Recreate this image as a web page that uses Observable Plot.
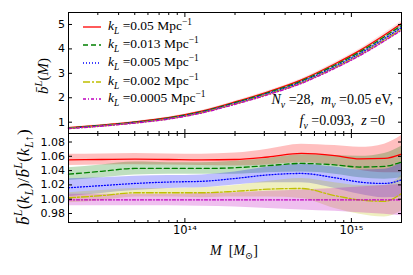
<!DOCTYPE html>
<html><head><meta charset="utf-8">
<script src="https://cdn.jsdelivr.net/npm/d3@7"></script>
<script src="https://cdn.jsdelivr.net/npm/@observablehq/plot@0.6"></script>
<style>
html,body{margin:0;padding:0;background:#fff;}
body{width:413px;height:275px;overflow:hidden;position:relative;font-family:"DejaVu Sans",sans-serif;}
.panel{position:absolute;left:0;}
.serif{font-family:"Liberation Serif","DejaVu Serif",serif;position:absolute;white-space:nowrap;color:#000;}
.serif sub,.serif sup{font-size:70%;line-height:0;}
.rot{transform:translate(-50%,-50%) rotate(-90deg);}
.leg{position:absolute;left:83px;height:14px;white-space:nowrap;}
.leg svg{position:absolute;left:0;top:5px;}
.leg span{position:absolute;left:25px;top:-2px;font-family:"Liberation Serif",serif;font-size:13.5px;}
.leg sub,.leg sup{font-size:70%;line-height:0;}
</style>
</head><body>
<div id="top" class="panel" style="top:0"></div>
<div id="bot" class="panel" style="top:133px"></div>
<script>
// ---- data ----
const kL = ["0.05", "0.013", "0.005", "0.002", "0.0005"];
const mass = [2.0e13, 3.16e13, 5.01e13, 7.94e13, 1.26e14, 2.0e14, 3.16e14, 5.01e14, 7.94e14, 1.12e15, 1.58e15, 2.0e15];
// top panel: bias b^L(M)
const biasRed     = [0.777, 0.884, 1.016, 1.188, 1.452, 1.828, 2.244, 2.732, 3.381, 3.929, 4.569, 5.04];
const biasGreen   = [0.765, 0.870, 1.000, 1.170, 1.430, 1.800, 2.210, 2.690, 3.330, 3.870, 4.500, 4.96];
const biasBlue    = [0.752, 0.855, 0.983, 1.150, 1.405, 1.769, 2.172, 2.644, 3.272, 3.803, 4.422, 4.875];
const biasYellow  = [0.742, 0.844, 0.970, 1.134, 1.386, 1.745, 2.142, 2.608, 3.228, 3.751, 4.362, 4.808];
const biasMagenta = [0.736, 0.837, 0.962, 1.125, 1.375, 1.731, 2.125, 2.587, 3.202, 3.721, 4.327, 4.77];
const biasHalf    = [0.02, 0.02, 0.02, 0.025, 0.03, 0.035, 0.04, 0.05, 0.06, 0.07, 0.08, 0.09];
// bottom panel: ratio b^L(k_L)/b^L(k_L up) and band half-widths
const ratioRed     = [1.055, 1.0555, 1.056, 1.0555, 1.055, 1.0555, 1.059, 1.064, 1.061, 1.0565, 1.057, 1.063];
const ratioGreen   = [1.035, 1.039, 1.043, 1.043, 1.043, 1.044, 1.047, 1.050, 1.048, 1.045, 1.046, 1.052];
const ratioBlue    = [1.016, 1.019, 1.022, 1.024, 1.025, 1.029, 1.034, 1.036, 1.030, 1.024, 1.022, 1.027];
const ratioYellow  = [1.002, 1.005, 1.009, 1.009, 1.009, 1.011, 1.014, 1.015, 1.005, 0.999, 0.997, 1.008];
const ratioMagenta = [0.999, 0.999, 0.999, 0.999, 0.999, 0.999, 0.999, 0.999, 0.999, 0.999, 0.999, 0.999];
const halfRed     = [0.0077, 0.0077, 0.0078, 0.0078, 0.008, 0.009, 0.011, 0.013, 0.014, 0.016, 0.020, 0.026];
const halfGreen   = [0.009, 0.009, 0.009, 0.008, 0.008, 0.009, 0.010, 0.012, 0.013, 0.015, 0.018, 0.022];
const halfBlue    = [0.0125, 0.011, 0.010, 0.009, 0.009, 0.009, 0.011, 0.013, 0.015, 0.017, 0.020, 0.024];
const halfYellow  = [0.007, 0.007, 0.006, 0.006, 0.007, 0.008, 0.011, 0.014, 0.018, 0.020, 0.022, 0.025];
const halfMagenta = [0.008, 0.008, 0.008, 0.008, 0.009, 0.010, 0.012, 0.014, 0.016, 0.018, 0.020, 0.022];
// ticks
const xMajor = [1e14, 1e15];
const xMinor = [3e13, 4e13, 5e13, 6e13, 7e13, 8e13, 9e13, 2e14, 3e14, 4e14, 5e14, 6e14, 7e14, 8e14, 9e14, 2e15];
const yTopTicks = [1, 2, 3, 4, 5];
const yBotTicks = [0.98, 1.00, 1.02, 1.04, 1.06, 1.08];

// ---- styles ----
const colors = ["#ff0000", "#008000", "#0000ff", "#bfbf00", "#bf00bf"];
const dashes = [null, "5,3", "1,2", "7,2,2,2", "3,2,1,2"];
const biasAll = [biasRed, biasGreen, biasBlue, biasYellow, biasMagenta];
const ratioAll = [ratioRed, ratioGreen, ratioBlue, ratioYellow, ratioMagenta];
const halfAll = [halfRed, halfGreen, halfBlue, halfYellow, halfMagenta];

const topRows = kL.map((k, i) => mass.map((m, j) => ({m, k, v: biasAll[i][j], lo: biasAll[i][j] - biasHalf[j], hi: biasAll[i][j] + biasHalf[j]})));
const botRows = kL.map((k, i) => mass.map((m, j) => ({m, k, v: ratioAll[i][j], lo: ratioAll[i][j] - halfAll[i][j], hi: ratioAll[i][j] + halfAll[i][j]})));

const sup = s => s.split("").map(c => "⁰¹²³⁴⁵⁶⁷⁸⁹"[+c]).join("");
const xfmt = d => "10" + sup(String(Math.round(Math.log10(d))));
const blank = () => "";
const W = 413, ML = 68, MR = 12;
const xScale = {type: "log", domain: [2e13, 2e15], label: null};

function frameAxes(yTicks, yfmt, withXLabels) {
  return [
    Plot.frame({stroke: "black", strokeWidth: 1}),
    Plot.axisY(yTicks, {anchor: "left", tickSize: -4, tickPadding: 7.5, tickFormat: yfmt, fontSize: 11, label: null}),
    Plot.axisY(yTicks, {anchor: "right", tickSize: -4, tickFormat: blank, label: null}),
    Plot.axisX(xMajor, {anchor: "bottom", tickSize: -4, tickPadding: 7, tickFormat: withXLabels ? xfmt : blank, fontSize: 11.5, label: null}),
    Plot.axisX(xMinor, {anchor: "bottom", tickSize: -2, tickFormat: blank, label: null}),
    Plot.axisX(xMajor, {anchor: "top", tickSize: -4, tickFormat: blank, label: null}),
    Plot.axisX(xMinor, {anchor: "top", tickSize: -2, tickFormat: blank, label: null})
  ];
}

const topMarks = [];
topRows.forEach((rows, i) => topMarks.push(Plot.areaY(rows, {x: "m", y1: "lo", y2: "hi", fill: colors[i], fillOpacity: 0.12, curve: "monotone-x"})));
topRows.forEach((rows, i) => topMarks.push(Plot.lineY(rows, {x: "m", y: "v", stroke: colors[i], strokeWidth: 1.3, strokeDasharray: dashes[i], curve: "monotone-x"})));

const topPlot = Plot.plot({
  width: W, height: 134, marginTop: 12, marginBottom: 1, marginLeft: ML, marginRight: MR,
  style: {fontFamily: "DejaVu Sans, sans-serif", fontSize: "11px", color: "black", background: "white", overflow: "visible"},
  x: xScale,
  y: {domain: [0.537, 5.49], label: null},
  marks: [...topMarks, ...frameAxes(yTopTicks, d => String(d), false)]
});
document.getElementById("top").appendChild(topPlot);

const botMarks = [];
botRows.forEach((rows, i) => botMarks.push(Plot.areaY(rows, {x: "m", y1: "lo", y2: "hi", fill: colors[i], fillOpacity: 0.25, curve: "monotone-x"})));
botRows.forEach((rows, i) => botMarks.push(Plot.lineY(rows, {x: "m", y: "v", stroke: colors[i], strokeWidth: 1.3, strokeDasharray: dashes[i], curve: "monotone-x"})));

const botPlot = Plot.plot({
  width: W, height: 142, marginTop: 0, marginBottom: 53, marginLeft: ML, marginRight: MR,
  style: {fontFamily: "DejaVu Sans, sans-serif", fontSize: "11px", color: "black", background: "transparent", overflow: "visible"},
  x: xScale,
  y: {domain: [0.9674, 1.0919], label: null},
  marks: [...botMarks, ...frameAxes(yBotTicks, d3.format(".2f"), true)]
});
document.getElementById("bot").appendChild(botPlot);

// ---- legend ----
const legRowTop = [20, 38, 56, 74.5, 92];
kL.forEach((k, i) => {
  const div = document.createElement("div");
  div.className = "leg";
  div.style.top = legRowTop[i] + "px";
  div.innerHTML = `<svg width="18" height="4"><line x1="0" y1="2" x2="18" y2="2" stroke="${colors[i]}" stroke-width="1.3" ${dashes[i] ? `stroke-dasharray="${dashes[i]}"` : ""}/></svg>` +
    `<span><i>k</i><sub><i>L</i></sub> =${k} Mpc<sup>−1</sup></span>`;
  document.body.appendChild(div);
});

// ---- text labels ----
function addText(html, style, cls) {
  const d = document.createElement("div");
  d.className = "serif " + (cls || "");
  d.setAttribute("style", style);
  d.innerHTML = html;
  document.body.appendChild(d);
}
addText(`<i>b̄</i><sup><i>L</i></sup>(<i>M</i>)`, "left:43px;top:76px;font-size:15px;", "rot");
addText(`<i>b̄</i><sup><i>L</i></sup>(<i>k</i><sub><i>L</i></sub>)/<i>b̄</i><sup><i>L</i></sup>(<i>k</i><sub><i>L</i>↑</sub>)`, "left:24px;top:177px;font-size:17px;letter-spacing:0.3px;", "rot");
addText(`<i>N</i><sub><i>ν</i></sub> =28,  <i>m</i><sub><i>ν</i></sub> =0.05 eV,`, "right:20px;top:92px;font-size:14px;white-space:pre;");
addText(`<i>f</i><sub><i>ν</i></sub> =0.093,  <i>z</i> =0`, "right:28px;top:113px;font-size:14px;white-space:pre;");
addText(`<i>M</i>  [<i>M</i><sub>⊙</sub>]`, "left:234px;top:251px;font-size:14px;transform:translate(-50%,-50%);white-space:pre;");
</script>
</body></html>
